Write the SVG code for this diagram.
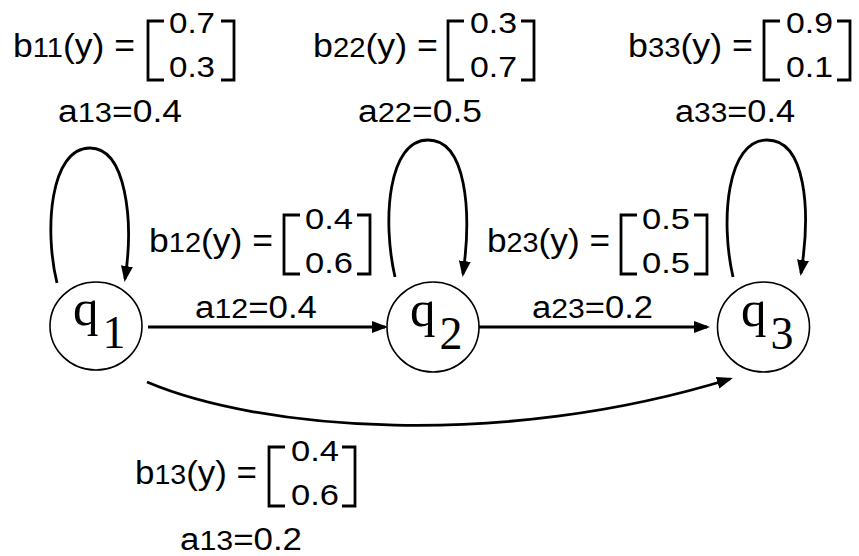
<svg xmlns="http://www.w3.org/2000/svg" width="859" height="556" viewBox="0 0 859 556">
<style>
.t{font-family:"Liberation Sans",Arial,sans-serif;font-size:33px;fill:#000}
.m{font-size:30px}
.a{font-size:31px}
.s{font-size:27px}
.q{font-family:"Liberation Serif","Times New Roman",serif;font-size:51px;fill:#000}
.qs{font-size:46px}
.br{fill:none;stroke:#000;stroke-width:2.8}
.node{fill:#fff;stroke:#000;stroke-width:1.6}
.edge{fill:none;stroke:#000;stroke-width:2.8}
</style>
<defs>
<marker id="ah" markerUnits="userSpaceOnUse" viewBox="0 0 16 12" refX="13" refY="6" markerWidth="16" markerHeight="12" orient="auto">
<path d="M0,0 L16,6 L0,12 z" fill="#000"/>
</marker>
<g id="brk">
<path class="br" d="M16,0 H0 V59 H16"/>
<path class="br" d="M73,0 H86 V59 H73"/>
</g>
</defs>
<rect width="859" height="556" fill="#fff"/>

<g id="connectors">
<path class="edge" d="M148,327 H385" marker-end="url(#ah)"/>
<path class="edge" d="M479,327 H707" marker-end="url(#ah)"/>
<path class="edge" d="M147,382 C260,430 500,450 730,379" marker-end="url(#ah)"/>
<path class="edge" d="M57,283 C44,230 50,148 90,148 C126,148 134,220 125,279" marker-end="url(#ah)"/>
<path class="edge" d="M395,277 C382,220 388,140 428,140 C466,140 472,210 463,274" marker-end="url(#ah)"/>
<path class="edge" d="M733,277 C720,220 727,140 767,140 C806,140 811,210 801,273" marker-end="url(#ah)"/>
</g>

<g id="q1">
<ellipse class="node" cx="96" cy="326" rx="46" ry="44"/>
<text class="q" x="73" y="325">q<tspan class="qs" dx="4" dy="23">1</tspan></text>
</g>
<g id="q2">
<ellipse class="node" cx="433" cy="327" rx="46" ry="45"/>
<text class="q" x="410" y="326">q<tspan class="qs" dx="4" dy="23">2</tspan></text>
</g>
<g id="q3">
<ellipse class="node" cx="763.5" cy="327" rx="46" ry="45"/>
<text class="q" x="741" y="326">q<tspan class="qs" dx="4" dy="23">3</tspan></text>
</g>

<g id="label-b11">
<text class="t" x="13" y="57" textLength="122" lengthAdjust="spacingAndGlyphs">b<tspan class="s">11</tspan>(y) =</text>
<use href="#brk" x="148" y="21"/>
<text class="t m" x="169" y="33" textLength="46" lengthAdjust="spacingAndGlyphs">0.7</text>
<text class="t m" x="169" y="77" textLength="46" lengthAdjust="spacingAndGlyphs">0.3</text>
<text class="t a" x="58" y="122" textLength="124" lengthAdjust="spacingAndGlyphs">a<tspan class="s">13</tspan>=0.4</text>
</g>
<g id="label-b22">
<text class="t" x="313" y="57" textLength="125" lengthAdjust="spacingAndGlyphs">b<tspan class="s">22</tspan>(y) =</text>
<use href="#brk" x="448" y="21"/>
<text class="t m" x="470" y="33" textLength="47" lengthAdjust="spacingAndGlyphs">0.3</text>
<text class="t m" x="470" y="77" textLength="47" lengthAdjust="spacingAndGlyphs">0.7</text>
<text class="t a" x="358" y="122" textLength="124" lengthAdjust="spacingAndGlyphs">a<tspan class="s">22</tspan>=0.5</text>
</g>
<g id="label-b33">
<text class="t" x="628" y="57" textLength="125" lengthAdjust="spacingAndGlyphs">b<tspan class="s">33</tspan>(y) =</text>
<use href="#brk" x="764" y="21"/>
<text class="t m" x="786" y="33" textLength="47" lengthAdjust="spacingAndGlyphs">0.9</text>
<text class="t m" x="786" y="77" textLength="47" lengthAdjust="spacingAndGlyphs">0.1</text>
<text class="t a" x="675" y="122" textLength="120" lengthAdjust="spacingAndGlyphs">a<tspan class="s">33</tspan>=0.4</text>
</g>
<g id="label-b12">
<text class="t" x="149" y="252" textLength="124" lengthAdjust="spacingAndGlyphs">b<tspan class="s">12</tspan>(y) =</text>
<use href="#brk" x="284" y="215"/>
<text class="t m" x="305" y="229" textLength="48" lengthAdjust="spacingAndGlyphs">0.4</text>
<text class="t m" x="305" y="273" textLength="48" lengthAdjust="spacingAndGlyphs">0.6</text>
<text class="t a" x="195" y="318" textLength="122" lengthAdjust="spacingAndGlyphs">a<tspan class="s">12</tspan>=0.4</text>
</g>
<g id="label-b23">
<text class="t" x="487" y="252" textLength="123" lengthAdjust="spacingAndGlyphs">b<tspan class="s">23</tspan>(y) =</text>
<use href="#brk" x="621" y="215"/>
<text class="t m" x="642" y="229" textLength="48" lengthAdjust="spacingAndGlyphs">0.5</text>
<text class="t m" x="642" y="273" textLength="48" lengthAdjust="spacingAndGlyphs">0.5</text>
<text class="t a" x="532" y="318" textLength="121" lengthAdjust="spacingAndGlyphs">a<tspan class="s">23</tspan>=0.2</text>
</g>
<g id="label-b13">
<text class="t" x="135" y="484" textLength="122" lengthAdjust="spacingAndGlyphs">b<tspan class="s">13</tspan>(y) =</text>
<use href="#brk" x="269" y="447"/>
<text class="t m" x="291" y="461" textLength="48" lengthAdjust="spacingAndGlyphs">0.4</text>
<text class="t m" x="291" y="505" textLength="48" lengthAdjust="spacingAndGlyphs">0.6</text>
<text class="t a" x="180" y="550" textLength="122" lengthAdjust="spacingAndGlyphs">a<tspan class="s">13</tspan>=0.2</text>
</g>
</svg>
